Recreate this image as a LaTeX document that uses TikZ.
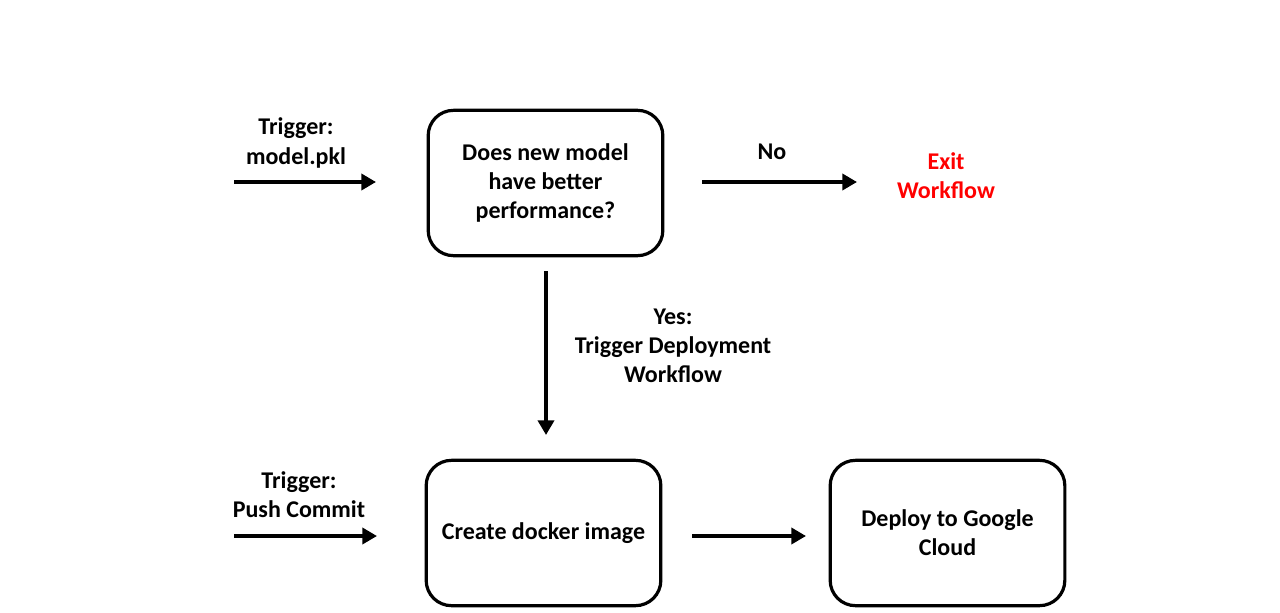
\documentclass[tikz,border=0pt]{standalone}
\usepackage{fontspec}
\setmainfont{Carlito}
\usetikzlibrary{arrows.meta}
\begin{document}
\begin{tikzpicture}[x=0.75pt,y=-0.75pt,
  box/.style={draw,line width=2.4pt,rounded corners=19pt,minimum width=176pt,minimum height=109pt,inner sep=0pt,align=center,font=\bfseries\fontsize{18}{21.8}\selectfont},
  lbl/.style={align=center,inner sep=0pt,font=\bfseries\fontsize{18}{21.8}\selectfont},
  arr/.style={line width=3pt,-{Triangle[length=11pt,width=12pt]}}]
\useasboundingbox (0,0) rectangle (1280,613);
\node[box] (q) at (545.5,183) {Does new model\\have better\\performance?};
\node[box] (d) at (543.5,533) {Create docker image};
\node[box] (g) at (947.5,533) {Deploy to Google\\Cloud};
\coordinate (a1s) at (234,182); \coordinate (a1e) at (376,182);
\coordinate (a2s) at (702,182); \coordinate (a2e) at (857,182);
\coordinate (a3s) at (546,271); \coordinate (a3e) at (546,435);
\coordinate (a4s) at (234,536); \coordinate (a4e) at (377,536);
\coordinate (a5s) at (692,536); \coordinate (a5e) at (806,536);
\draw[arr] (a1s) -- (a1e);
\draw[arr] (a2s) -- (a2e);
\draw[arr] (a3s) -- (a3e);
\draw[arr] (a4s) -- (a4e);
\draw[arr] (a5s) -- (a5e);
\node[lbl] (t1) at (296,143) {Trigger:\\model.pkl};
\node[lbl] (no) at (772,152) {No};
\node[lbl,text=red] (ex) at (946,176) {Exit\\Workflow};
\node[lbl] (yes) at (673,346) {Yes:\\Trigger Deployment\\Workflow};
\node[lbl] (t2) at (299,495) {Trigger:\\Push Commit};
\end{tikzpicture}
\end{document}
